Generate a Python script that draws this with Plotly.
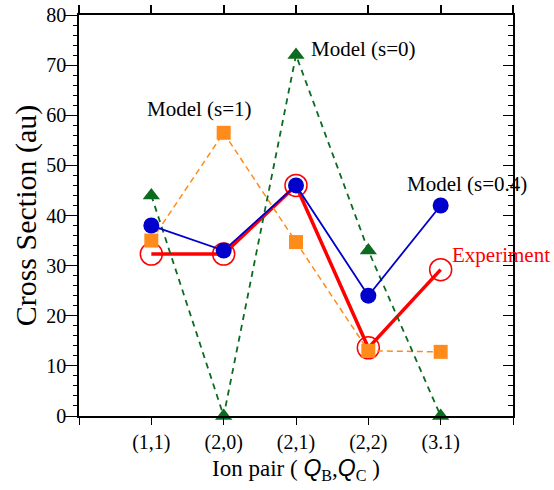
import plotly.graph_objects as go

categories = ["(1,1)", "(2,0)", "(2,1)", "(2,2)", "(3.1)"]
xpos = [1, 2, 3, 4, 5]
model_s04 = [38, 33, 46, 24, 42]
model_s1 = [35, 56.5, 34.7, 13, 12.8]
model_s0 = [44, 0, 72, 33, 0]
experiment = [32.3, 32.3, 46, 13.6, 29.2]

FONT = "Liberation Serif"
BLUE = "#0000cc"
ORANGE = "#ff8c1a"
GREEN = "#0b6b1f"
RED = "#ff0000"

fig = go.Figure()

fig.add_trace(go.Scatter(
    x=xpos, y=experiment, mode="lines+markers", name="Experiment",
    line=dict(color=RED, width=3.5),
    marker=dict(symbol="circle-open", size=22, color=RED, line=dict(width=1.5, color=RED)),
    cliponaxis=False))
fig.add_trace(go.Scatter(
    x=xpos, y=model_s1, mode="lines+markers", name="Model (s=1)",
    line=dict(color=ORANGE, width=1.5, dash="6px,4px"),
    marker=dict(symbol="square", size=14, color=ORANGE),
    cliponaxis=False))
fig.add_trace(go.Scatter(
    x=xpos, y=model_s0, mode="lines+markers", name="Model (s=0)",
    line=dict(color=GREEN, width=1.8, dash="6px,5px"),
    marker=dict(symbol="triangle-up", size=15, color=GREEN),
    cliponaxis=False))
fig.add_trace(go.Scatter(
    x=xpos, y=model_s04, mode="lines+markers", name="Model (s=0.4)",
    line=dict(color=BLUE, width=1.8),
    marker=dict(symbol="circle", size=16, color=BLUE),
    cliponaxis=False))
# invisible traces to anchor the mirror axes (top and right)
fig.add_trace(go.Scatter(x=[None], y=[None], xaxis="x", yaxis="y2",
                         showlegend=False, hoverinfo="skip"))
fig.add_trace(go.Scatter(x=[None], y=[None], xaxis="x2", yaxis="y",
                         showlegend=False, hoverinfo="skip"))

annotations = [
    dict(x=3.93, y=73.2, text="Model (s=0)", color="black"),
    dict(x=1.66, y=61.2, text="Model (s=1)", color="black"),
    dict(x=5.37, y=46.2, text="Model (s=0.4)", color="black"),
    dict(x=5.83, y=32.2, text="Experiment", color=RED),
]
for a in annotations:
    fig.add_annotation(x=a["x"], y=a["y"], text=a["text"], showarrow=False,
                       xref="x", yref="y",
                       font=dict(family=FONT, size=21, color=a["color"]))

tickvals_x = [0, 1, 2, 3, 4, 5, 6]
ticktext_x = [""] + categories + [""]

fig.update_layout(
    width=554, height=490,
    margin=dict(l=79, r=41, t=15, b=74),
    paper_bgcolor="white", plot_bgcolor="white",
    showlegend=False,
    font=dict(family=FONT, size=20, color="black"),
    xaxis=dict(
        range=[0, 6], tickvals=tickvals_x, ticktext=ticktext_x,
        ticks="outside", ticklen=7, tickwidth=1.4, tickcolor="black",
        showline=True, linecolor="black", linewidth=1.5, mirror="ticks",
        showgrid=False, zeroline=False, automargin=False,
        tickfont=dict(family=FONT, size=20),
        title=dict(text='Ion pair ( <span style="font-family:Liberation Sans"><i>Q</i></span><sub>B</sub>,<span style="font-family:Liberation Sans"><i>Q</i></span><sub>C</sub> )',
                   font=dict(family=FONT, size=23), standoff=7),
    ),
    xaxis2=dict(
        range=[0, 6], overlaying="x", side="top", anchor="y",
        tickmode="array", tickvals=tickvals_x, showticklabels=False,
        ticks="outside", ticklen=8, tickwidth=1.5, tickcolor="black",
        showline=True, linecolor="black", linewidth=1.5,
        showgrid=False, zeroline=False, automargin=False,
    ),
    yaxis=dict(
        range=[0, 80], dtick=10, tick0=0,
        ticks="outside", ticklen=12, tickwidth=1.2, tickcolor="black",
        minor=dict(dtick=2, ticks="outside", ticklen=4, tickwidth=1, tickcolor="black"),
        showline=True, linecolor="black", linewidth=1.5,
        showgrid=False, zeroline=False, automargin=False,
        tickfont=dict(family=FONT, size=20),
        ticklabelstandoff=-5, ticklabeloverflow="allow",
        title=dict(text="Cross Section (au)", font=dict(family=FONT, size=30), standoff=1),
    ),
    yaxis2=dict(
        range=[0, 80], dtick=10, tick0=0, overlaying="y", side="right", anchor="x",
        showticklabels=False,
        ticks="inside", ticklen=10, tickwidth=1.2, tickcolor="black",
        minor=dict(dtick=2, ticks="inside", ticklen=5, tickwidth=1, tickcolor="black"),
        showline=True, linecolor="black", linewidth=1.5,
        showgrid=False, zeroline=False, automargin=False,
    ),
)

fig.write_html("out.html", config={"displayModeBar": False},
               post_script="document.body.style.margin='0px';")
